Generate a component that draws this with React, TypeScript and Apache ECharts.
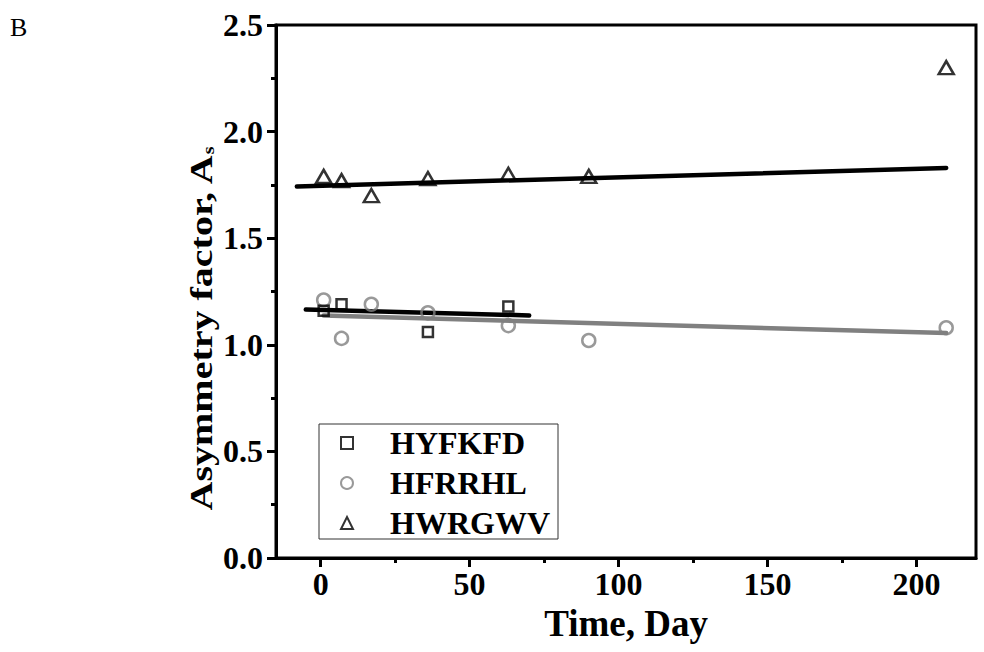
import { useEffect, useRef } from "react";
import * as echarts from "echarts";

// Measured asymmetry factor per peptide over storage time (days)
const hyfkfdDays = [1, 7, 36, 63];
const hyfkfdValues = [1.16, 1.19, 1.06, 1.18];
const hfrrhlDays = [1, 7, 17, 36, 63, 90, 210];
const hfrrhlValues = [1.21, 1.03, 1.19, 1.15, 1.09, 1.02, 1.08];
const hwrgwvDays = [1, 7, 17, 36, 63, 90, 210];
const hwrgwvValues = [1.79, 1.77, 1.7, 1.78, 1.8, 1.79, 2.3];

// Linear trend lines, given by their end points [day, value]
const hyfkfdFit = [[-5, 1.165], [70, 1.138]];
const hfrrhlFit = [[1, 1.137], [210, 1.055]];
const hwrgwvFit = [[-8, 1.743], [210, 1.829]];

const xTicks = [0, 50, 100, 150, 200];
const xMinorTicks = [25, 75, 125, 175];

const seriesNames = ["HYFKFD", "HFRRHL", "HWRGWV"];

const FONT = '"Liberation Serif", "Times New Roman", serif';

const pairs = (xs: number[], ys: number[]) => xs.map((x, i) => [x, ys[i]]);

export default function App() {
  const ref = useRef<HTMLDivElement>(null);

  useEffect(() => {
    if (!ref.current) return;
    const chart = echarts.init(ref.current, undefined, { renderer: "svg" });

    const boldText = { fontFamily: FONT, fontSize: 32, fontWeight: "bold" as const, color: "#000" };

    chart.setOption({
      animation: false,
      backgroundColor: "#fff",
      grid: {
        left: 276,
        top: 25,
        right: 8,
        bottom: 94,
        show: true,
        borderColor: "#000",
        borderWidth: 3,
        backgroundColor: "transparent",
      },
      xAxis: [
        {
          type: "value",
          min: -15,
          max: 220,
          position: "bottom",
          axisLine: { show: true, onZero: false, lineStyle: { color: "#000", width: 3 } },
          axisTick: {
            show: true,
            inside: false,
            length: 9,
            customValues: xTicks,
            lineStyle: { color: "#000", width: 3 },
          },
          axisLabel: { ...boldText, margin: 10, customValues: xTicks },
          splitLine: { show: false },
          name: "Time, Day",
          nameLocation: "middle",
          nameGap: 47,
          nameTextStyle: { ...boldText, fontSize: 37 },
        },
        {
          type: "value",
          min: -15,
          max: 220,
          position: "bottom",
          axisLine: { show: false, onZero: false },
          axisTick: {
            show: true,
            inside: false,
            length: 5,
            customValues: xMinorTicks,
            lineStyle: { color: "#000", width: 3 },
          },
          axisLabel: { show: false },
          splitLine: { show: false },
        },
      ],
      yAxis: {
        type: "value",
        min: 0,
        max: 2.5,
        interval: 0.5,
        axisLine: { show: true, onZero: false, lineStyle: { color: "#000", width: 3 } },
        axisTick: { show: true, inside: false, length: 9, lineStyle: { color: "#000", width: 3 } },
        minorTick: { show: true, splitNumber: 2, length: 5, lineStyle: { color: "#000", width: 3 } },
        axisLabel: { ...boldText, margin: 13, formatter: (v: number) => v.toFixed(1) },
        splitLine: { show: false },
        minorSplitLine: { show: false },
      },
      legend: {
        data: seriesNames,
        orient: "vertical",
        left: 319,
        top: 424,
        borderColor: "#333",
        borderWidth: 1,
        padding: [3, 8, 0, 21],
        itemGap: 8,
        itemWidth: 12,
        itemHeight: 12,
        textStyle: { ...boldText, padding: [0, 0, 0, 32] },
      },
      graphic: [
        {
          type: "text",
          left: 10,
          top: 14,
          style: { text: "B", font: `26px ${FONT}`, fill: "#000" },
        },
        {
          // Y-axis title with subscript s, set in a tall narrow face
          type: "text",
          x: 201,
          y: 329,
          rotation: Math.PI / 2,
          scaleX: 1.25,
          style: {
            text: "{a|Asymmetry factor, A}{s|s}",
            align: "center",
            verticalAlign: "middle",
            rich: {
              a: { fontFamily: FONT, fontSize: 32, fontWeight: "bold", fill: "#000" },
              s: { fontFamily: FONT, fontSize: 16, fontWeight: "bold", fill: "#000", verticalAlign: "bottom" },
            },
          },
        },
      ],
      series: [
        {
          type: "line",
          data: hfrrhlFit,
          symbol: "none",
          silent: true,
          lineStyle: { color: "#808080", width: 4.5, cap: "round" },
          z: 2,
        },
        {
          type: "line",
          data: hyfkfdFit,
          symbol: "none",
          silent: true,
          lineStyle: { color: "#000", width: 4.5, cap: "round" },
          z: 2,
        },
        {
          type: "line",
          data: hwrgwvFit,
          symbol: "none",
          silent: true,
          lineStyle: { color: "#000", width: 4.5, cap: "round" },
          z: 2,
        },
        {
          name: "HFRRHL",
          type: "scatter",
          data: pairs(hfrrhlDays, hfrrhlValues),
          symbol: "circle",
          symbolSize: 13,
          itemStyle: { color: "transparent", borderColor: "#808080", borderWidth: 2.5 },
          z: 3,
        },
        {
          name: "HYFKFD",
          type: "scatter",
          data: pairs(hyfkfdDays, hyfkfdValues),
          symbol: "rect",
          symbolSize: 10,
          itemStyle: { color: "transparent", borderColor: "#000", borderWidth: 2.5 },
          z: 3,
        },
        {
          name: "HWRGWV",
          type: "scatter",
          data: pairs(hwrgwvDays, hwrgwvValues),
          symbol: "triangle",
          symbolSize: [15, 13],
          itemStyle: { color: "transparent", borderColor: "#000", borderWidth: 2.5 },
          z: 3,
        },
      ],
    });

    return () => chart.dispose();
  }, []);

  return (
    <div
      ref={ref}
      style={{ position: "absolute", left: 0, top: 0, width: 984, height: 652 }}
    />
  );
}
